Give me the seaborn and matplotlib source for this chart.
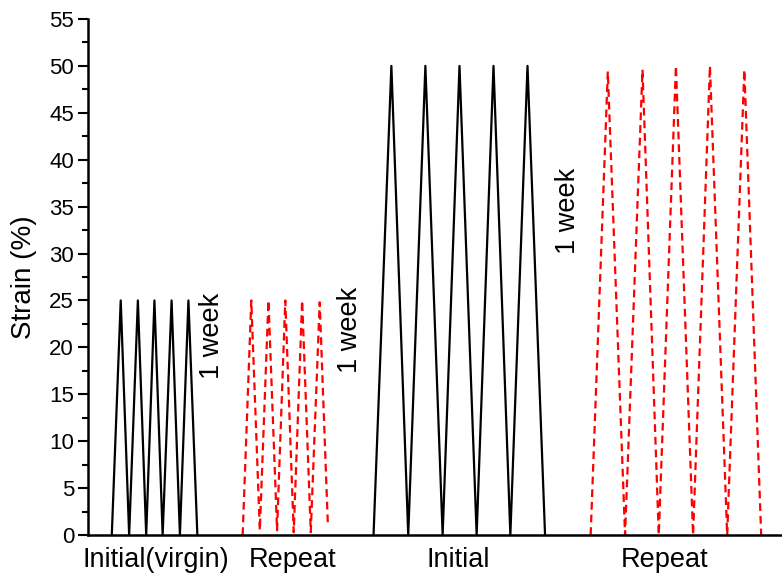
import matplotlib
matplotlib.use("Agg")
import matplotlib.pyplot as plt
import seaborn as sns
import pandas as pd
from matplotlib.ticker import MultipleLocator

# ---- data (time in arbitrary units, strain in %) ----
t_initial_virgin = [24, 33, 41.5, 50.3, 58.7, 67, 75.3, 84.3, 92.7, 101.3, 110.3]
s_initial_virgin = [0, 25, 0, 25, 0, 25, 0, 25, 0, 25, 0]

t_repeat_25 = [156, 164.7, 173.3, 182, 190.7, 199, 207.5, 216, 224.7, 233.7, 242]
s_repeat_25 = [0, 25, 0.5, 25, 0.5, 25, 0.3, 25, 0.3, 24.8, 0.9]

t_initial_50 = [288, 306, 323, 340.3, 357.7, 374.7, 392, 409, 426, 443.3, 461]
s_initial_50 = [0, 50, 0, 50, 0, 50, 0, 50, 0, 50, 0]

t_repeat_50 = [507, 524.3, 541.7, 559.3, 575.7, 593, 610.3, 627.3, 644.7, 662, 679]
s_repeat_50 = [0, 49.4, 0, 49.6, 0, 50, 0, 50, 0, 49.6, 0]

category_labels = ["Initial(virgin)", "Repeat", "Initial", "Repeat"]
category_pos = [68.5, 206, 373, 582]

week_labels = ["1 week", "1 week", "1 week"]
week_pos_t = [125, 264, 484]
week_pos_s = [21.2, 21.9, 34.5]

segments = [
    ("Initial(virgin)", t_initial_virgin, s_initial_virgin, "black", "-"),
    ("Repeat 25", t_repeat_25, s_repeat_25, "#ff0000", (0, (3.5, 2.2))),
    ("Initial 50", t_initial_50, s_initial_50, "black", "-"),
    ("Repeat 50", t_repeat_50, s_repeat_50, "#ff0000", (0, (3.5, 2.2))),
]

sns.set_theme(style="ticks")
plt.rcParams["font.family"] = ["Liberation Sans", "DejaVu Sans"]
plt.rcParams["text.color"] = "black"
plt.rcParams["axes.labelcolor"] = "black"
plt.rcParams["ytick.color"] = "black"
plt.rcParams["xtick.color"] = "black"

fig = plt.figure(figsize=(7.82, 5.76), dpi=100)
ax = fig.add_axes([88 / 782, 41 / 576, 1 - 88 / 782, (535 - 19) / 576])

for name, t, s, col, ls in segments:
    df = pd.DataFrame({"time": t, "strain": s})
    sns.lineplot(data=df, x="time", y="strain", sort=False, estimator=None,
                 color=col, linewidth=1.6, ax=ax)
    ax.lines[-1].set_linestyle(ls)

ax.set_xlim(0, 700)
ax.set_ylim(0, 55)
ax.yaxis.set_major_locator(MultipleLocator(5))
ax.yaxis.set_minor_locator(MultipleLocator(2.5))
ax.set_xticks([])
ax.set_xlabel("")
ax.set_ylabel("Strain (%)", fontsize=20, labelpad=9, color="black")
ax.tick_params(axis="y", which="major", direction="out", length=7, width=1.5,
               labelsize=16, pad=3, colors="black")
ax.tick_params(axis="y", which="minor", direction="out", length=4, width=1.5,
               colors="black")
for side in ["top", "right"]:
    ax.spines[side].set_visible(False)
for side in ["left", "bottom"]:
    ax.spines[side].set_linewidth(1.8)
    ax.spines[side].set_color("black")

for lab, x in zip(category_labels, category_pos):
    ax.text(x, -3.45, lab, ha="center", va="baseline", fontsize=19.5,
            clip_on=False, color="black")

for lab, x, y in zip(week_labels, week_pos_t, week_pos_s):
    ax.text(x, y, lab, ha="center", va="center", rotation=90, fontsize=19.5,
            color="black")

fig.savefig("out.png", dpi=100, facecolor="white")
